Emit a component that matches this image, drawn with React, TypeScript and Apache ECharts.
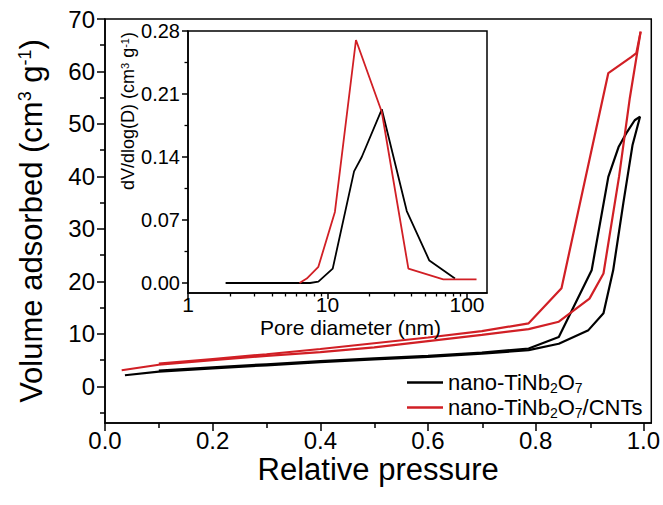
import React, { useEffect, useRef } from 'react';
import * as echarts from 'echarts';

// ---- main plot: N2 isotherms ----
const pressureTicks = [0, 0.2, 0.4, 0.6, 0.8, 1.0];
const pressureMinor = [0.1, 0.3, 0.5, 0.7, 0.9];
const volumeTicks = [0, 10, 20, 30, 40, 50, 60, 70];
const volumeMinor = [-5, 5, 15, 25, 35, 45, 55, 65];

const seriesNames = ['nano-TiNb2O7', 'nano-TiNb2O7/CNTs'];

const tnoAdsP = [0.037, 0.1, 0.2, 0.3, 0.4, 0.5, 0.6, 0.7, 0.787, 0.843, 0.898, 0.926, 0.944, 0.963, 0.98, 0.994];
const tnoAdsV = [2.1, 2.8, 3.4, 4.0, 4.6, 5.1, 5.6, 6.2, 6.9, 8.1, 10.7, 13.9, 22.1, 35.0, 46.0, 51.4];
const tnoDesP = [0.994, 0.984, 0.97, 0.954, 0.935, 0.904, 0.843, 0.787, 0.7, 0.6, 0.5, 0.4, 0.3, 0.2, 0.1];
const tnoDesV = [51.4, 50.7, 48.5, 45.6, 39.9, 22.1, 9.4, 7.2, 6.4, 5.8, 5.3, 4.8, 4.2, 3.6, 3.0];

const cntAdsP = [0.031, 0.1, 0.2, 0.3, 0.4, 0.5, 0.6, 0.7, 0.787, 0.843, 0.9, 0.926, 0.955, 0.975, 0.995];
const cntAdsV = [3.05, 4.1, 5.0, 5.8, 6.5, 7.4, 8.6, 9.8, 10.9, 12.3, 16.7, 21.5, 40.0, 55.0, 67.6];
const cntDesP = [0.995, 0.987, 0.978, 0.935, 0.848, 0.787, 0.7, 0.6, 0.5, 0.4, 0.3, 0.2, 0.1];
const cntDesV = [67.6, 63.5, 62.8, 59.7, 18.7, 12.0, 10.5, 9.3, 8.2, 7.1, 6.1, 5.2, 4.3];

// ---- inset: pore size distribution ----
const poreTicks = [1, 10, 100];
const poreMinor = [2, 3, 4, 5, 6, 7, 8, 9, 20, 30, 40, 50, 60, 70, 80, 90];
const dvTicks = [0, 0.07, 0.14, 0.21, 0.28];
const dvMinor = [0.035, 0.105, 0.175, 0.245];

const tnoPoreD = [1.86, 7.5, 8.6, 10.9, 15.5, 17.6, 24.5, 37, 53.7, 82];
const tnoPoreV = [0, 0, 0.0015, 0.016, 0.124, 0.14, 0.193, 0.08, 0.025, 0.005];
const cntPoreD = [6.3, 7.1, 8.6, 11.3, 16, 24.5, 38, 67.6, 117];
const cntPoreV = [0, 0.005, 0.018, 0.079, 0.27, 0.19, 0.016, 0.004, 0.004];

const BLACK = '#000000';
const RED = '#d11f25';
const FONT = 'Liberation Sans, Arial, sans-serif';

const zip = (a: number[], b: number[]) => a.map((v, i) => [v, b[i]]);

export default function App() {
  const ref = useRef<HTMLDivElement>(null);
  useEffect(() => {
    if (!ref.current) return;
    const chart = echarts.init(ref.current, null, { renderer: 'svg' });
    const axisLine = { show: true, onZero: false, lineStyle: { color: '#000', width: 1.5 } };
    const hiddenLine = { show: false, onZero: false };
    const mkLine = (name: string, x: number[], y: number[], color: string, xi: number, width: number) => ({
      type: 'line',
      name,
      xAxisIndex: xi,
      yAxisIndex: xi,
      data: zip(x, y),
      symbol: 'none',
      showSymbol: false,
      lineStyle: { color, width },
      itemStyle: { color },
      z: 3,
    });
    const mainGrid = { left: 105, top: 19, width: 548, height: 404 };
    const insetGrid = { left: 188, top: 31, width: 299, height: 262 };
    const sub = { fontSize: 14, fontFamily: FONT, color: '#000', verticalAlign: 'bottom', lineHeight: 25 };
    const option: any = {
      animation: false,
      backgroundColor: '#fff',
      textStyle: { fontFamily: FONT },
      grid: [
        { ...mainGrid, show: true, borderColor: '#000', borderWidth: 1.5 },
        { ...insetGrid, show: true, borderColor: '#000', borderWidth: 1.5, backgroundColor: '#fff', z: 4 },
        { ...mainGrid, show: false },
        { ...insetGrid, show: false },
      ],
      xAxis: [
        {
          type: 'value', gridIndex: 0, position: 'bottom', min: 0, max: 1.0148,
          axisLine,
          axisTick: { show: true, length: 8, lineStyle: { color: '#000', width: 1.5 }, customValues: pressureTicks },
          axisLabel: { customValues: pressureTicks, formatter: (v: number) => v.toFixed(1), fontSize: 24, color: '#000', fontFamily: FONT, margin: 5 },
          splitLine: { show: false },
          name: 'Relative pressure', nameLocation: 'middle', nameGap: 31, nameMoveOverlap: false,
          nameTextStyle: { fontSize: 31, color: '#000', fontFamily: FONT },
        },
        {
          type: 'value', gridIndex: 2, position: 'bottom', min: 0, max: 1.0148,
          axisLine: hiddenLine,
          axisTick: { show: true, length: 5, lineStyle: { color: '#000', width: 1.5 }, customValues: pressureMinor },
          axisLabel: { show: false }, splitLine: { show: false },
        },
        {
          type: 'log', gridIndex: 1, position: 'bottom', min: 1, max: 139.1, logBase: 10, z: 5,
          axisLine,
          axisTick: { show: true, length: 6, lineStyle: { color: '#000', width: 1.5 }, customValues: poreTicks },
          axisLabel: { customValues: poreTicks, formatter: (v: number) => String(Math.round(v)), fontSize: 21, color: '#000', fontFamily: FONT, margin: 1 },
          splitLine: { show: false }, minorTick: { show: false },
          name: 'Pore diameter (nm)', nameLocation: 'middle', nameGap: 24, nameMoveOverlap: false,
          nameTextStyle: { fontSize: 21, color: '#000', fontFamily: FONT, padding: [0, 0, 0, 26] },
        },
        {
          type: 'log', gridIndex: 3, position: 'bottom', min: 1, max: 139.1, logBase: 10, z: 5,
          axisLine: hiddenLine,
          axisTick: { show: true, length: 3.5, lineStyle: { color: '#000', width: 1.3 }, customValues: poreMinor },
          axisLabel: { show: false }, splitLine: { show: false },
        },
      ],
      yAxis: [
        {
          type: 'value', gridIndex: 0, position: 'left', min: -7, max: 70,
          axisLine,
          axisTick: { show: true, length: 8, lineStyle: { color: '#000', width: 1.5 }, customValues: volumeTicks },
          axisLabel: { customValues: volumeTicks, fontSize: 24, color: '#000', fontFamily: FONT, margin: 10 },
          splitLine: { show: false },
          name: 'Volume adsorbed (cm{sup|3} g{sup|-1})', nameLocation: 'middle', nameGap: 58, nameMoveOverlap: false,
          nameTextStyle: {
            fontSize: 31, color: '#000', fontFamily: FONT,
            rich: { sup: { fontSize: 18, color: '#000', fontFamily: FONT, verticalAlign: 'top', lineHeight: 20 } },
          },
        },
        {
          type: 'value', gridIndex: 2, position: 'left', min: -7, max: 70,
          axisLine: hiddenLine,
          axisTick: { show: true, length: 5, lineStyle: { color: '#000', width: 1.5 }, customValues: volumeMinor },
          axisLabel: { show: false }, splitLine: { show: false },
        },
        {
          type: 'value', gridIndex: 1, position: 'left', min: -0.0111, max: 0.28, z: 5,
          axisLine,
          axisTick: { show: true, length: 6, lineStyle: { color: '#000', width: 1.5 }, customValues: dvTicks },
          axisLabel: { customValues: dvTicks, formatter: (v: number) => v.toFixed(2), fontSize: 20, color: '#000', fontFamily: FONT, margin: 8 },
          splitLine: { show: false },
        },
        {
          type: 'value', gridIndex: 3, position: 'left', min: -0.0111, max: 0.28, z: 5,
          axisLine: hiddenLine,
          axisTick: { show: true, length: 3.5, lineStyle: { color: '#000', width: 1.3 }, customValues: dvMinor },
          axisLabel: { show: false }, splitLine: { show: false },
        },
      ],
      legend: {
        data: seriesNames.map((n) => ({ name: n, icon: 'rect' })),
        orient: 'vertical',
        left: 402,
        top: 365,
        itemWidth: 36,
        itemHeight: 2.5,
        itemGap: 0,
        textStyle: {
          fontSize: 22, color: '#000', fontFamily: FONT, lineHeight: 25,
          rich: { s: sub },
        },
        formatter: (name: string) => name.replace('Nb2O7', 'Nb{s|2}O{s|7}'),
      },
      graphic: [
        {
          type: 'text',
          x: 128,
          y: 111,
          rotation: Math.PI / 2,
          z: 100,
          style: {
            text: 'dV/dlog(D) (cm{sup|3} g{sup|-1})',
            fontSize: 18,
            fontFamily: FONT,
            fill: '#000',
            align: 'center',
            verticalAlign: 'middle',
            rich: { sup: { fontSize: 11, fontFamily: FONT, fill: '#000', verticalAlign: 'top', lineHeight: 12 } },
          },
        },
      ],
      series: [
        mkLine(seriesNames[0], tnoAdsP, tnoAdsV, BLACK, 0, 2.2),
        mkLine(seriesNames[0], tnoDesP, tnoDesV, BLACK, 0, 2.2),
        mkLine(seriesNames[1], cntAdsP, cntAdsV, RED, 0, 2.2),
        mkLine(seriesNames[1], cntDesP, cntDesV, RED, 0, 2.2),
        { ...mkLine('pore-TiNb2O7', tnoPoreD, tnoPoreV, BLACK, 2, 1.8), z: 6 },
        { ...mkLine('pore-TiNb2O7/CNTs', cntPoreD, cntPoreV, RED, 2, 1.8), z: 6 },
      ],
    };
    chart.setOption(option);
    return () => chart.dispose();
  }, []);
  return <div ref={ref} style={{ position: 'fixed', left: 0, top: 0, width: 663, height: 505 }} />;
}
